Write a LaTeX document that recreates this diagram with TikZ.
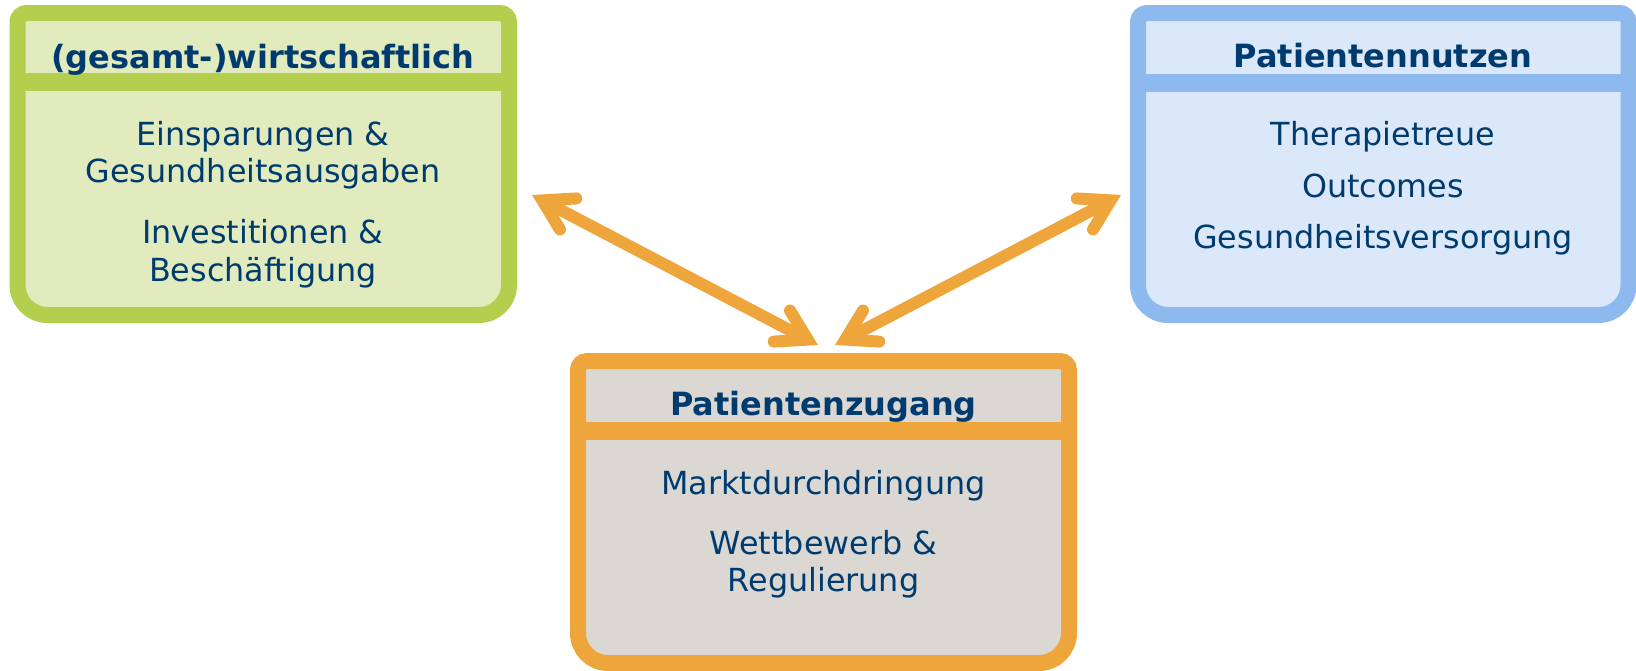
\documentclass[tikz,border=0pt]{standalone}
\usepackage{fontspec}
\setmainfont{DejaVu Sans}
\usetikzlibrary{calc}
\definecolor{txt}{HTML}{003B6F}
\definecolor{gline}{HTML}{B4CE4D}
\definecolor{gfill}{HTML}{E1EBBD}
\definecolor{bline}{HTML}{8DB9EE}
\definecolor{bfill}{HTML}{DAE8FA}
\definecolor{oline}{HTML}{EDA53C}
\definecolor{ofill}{HTML}{DBD8D3}
\newcommand\boxpath[4]{[rounded corners=9pt] (#1,#3+80) -- (#1,#3) -- (#2,#3) -- (#2,#3+80)
  [rounded corners=30pt] -- (#2,#4) -- (#1,#4) -- cycle}
\begin{document}
\begin{tikzpicture}[x=1pt,y=-1pt,
  hdr/.style={anchor=base, font=\fontsize{32}{38}\selectfont\bfseries, text=txt, inner sep=0pt},
  bod/.style={anchor=base, font=\fontsize{31.8}{38}\selectfont, text=txt, inner sep=0pt},
  border/.style={line width=16pt},
  divider/.style={line width=18pt},
  shaft/.style={draw=oline, line width=12pt},
  wing/.style={draw=oline, line width=12pt, line cap=round, line join=miter},
]
\useasboundingbox (0,0) rectangle (1636,670);

% ---- left box
\fill[gfill] \boxpath{17.5}{509}{13}{315};
\draw[divider, gline] (17.5,82) -- (509,82);
\draw[border, gline] \boxpath{17.5}{509}{13}{315};
% ---- right box
\fill[bfill] \boxpath{1138}{1628.5}{13}{315};
\draw[divider, bline] (1138,82.5) -- (1628.5,82.5);
\draw[border, bline] \boxpath{1138}{1628.5}{13}{315};
% ---- bottom box
\fill[ofill] \boxpath{578}{1069}{361}{663};
\draw[divider, oline] (578,431) -- (1069,431);
\draw[border, oline] \boxpath{578}{1069}{361}{663};

% ---- texts
\node[hdr] (hl) at (263,68) {(gesamt-)wirtschaftlich};
\node[bod] (l1) at (263,145) {Einsparungen \&};
\node[bod] (l2) at (263,182) {Gesundheitsausgaben};
\node[bod] (l3) at (263,243) {Investitionen \&};
\node[bod] (l4) at (263,281) {Beschäftigung};

\node[hdr] (hr) at (1383,67) {Patientennutzen};
\node[bod] (r1) at (1383,145) {Therapietreue};
\node[bod] (r2) at (1383,197) {Outcomes};
\node[bod] (r3) at (1383,248) {Gesundheitsversorgung};

\node[hdr] (hb) at (823.5,415) {Patientenzugang};
\node[bod] (b1) at (823.5,494) {Marktdurchdringung};
\node[bod] (b2) at (823.5,554) {Wettbewerb \&};
\node[bod] (b3) at (823.5,591) {Regulierung};

% ---- arrows (apex coordinates)
\coordinate (a1) at (542.3,200.4);
\coordinate (a2) at (807.7,339.6);
\coordinate (a4) at (1110.7,200.4);
\coordinate (a3) at (845.3,339.6);
\draw[shaft] (a1) -- (a2);
\draw[shaft] (a3) -- (a4);
\foreach \p/\q in {a1/a2, a2/a1, a3/a4, a4/a3}{
  \draw[wing] ($(\p)!34pt!31:(\q)$) -- (\p) -- ($(\p)!34pt!-31:(\q)$);
}
\end{tikzpicture}
\end{document}
